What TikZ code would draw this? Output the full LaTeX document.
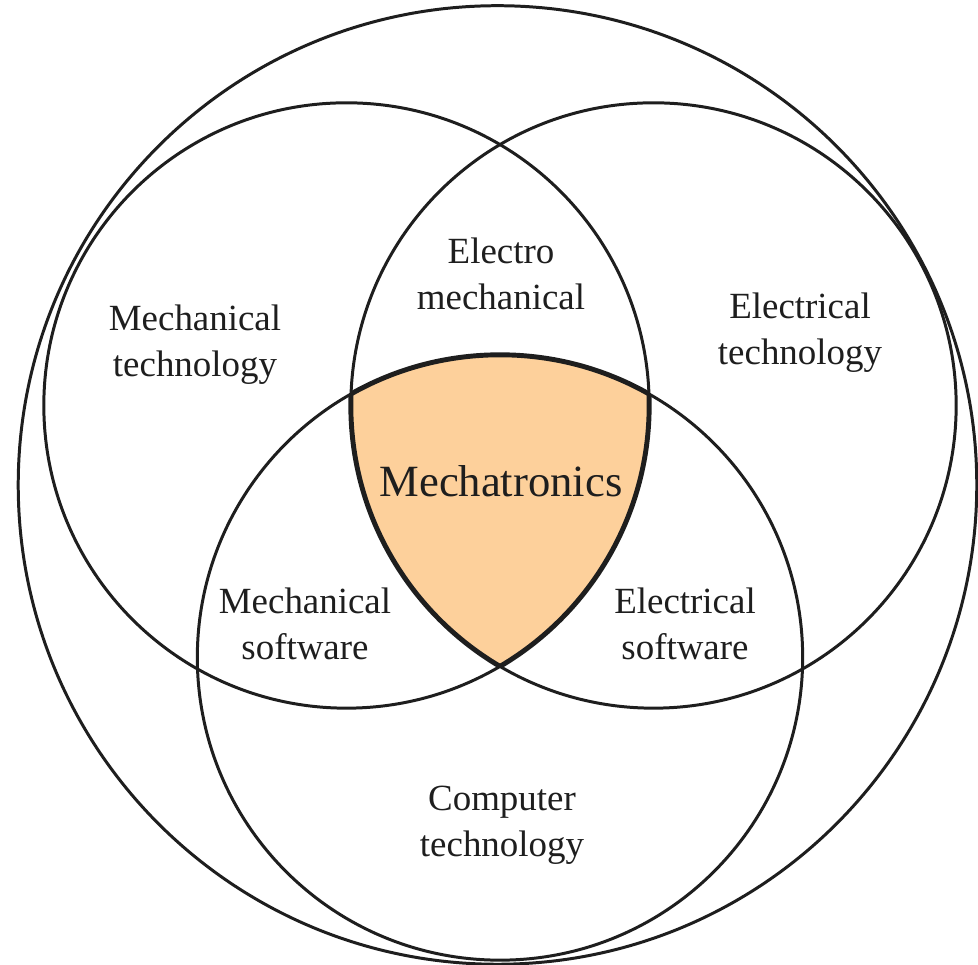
\documentclass[tikz,border=0pt]{standalone}
\usepackage{fontspec}
\setmainfont{Liberation Serif}
\definecolor{mechfill}{RGB}{253,208,155}
\definecolor{inkline}{RGB}{30,30,30}
\tikzset{
  ring/.style={draw=inkline, line width=0.85pt},
  lbl/.style={align=center, anchor=base, inner sep=0pt, text=inkline,
              font=\fontsize{10.5}{13.1}\selectfont},
  biglbl/.style={anchor=base, inner sep=0pt, text=inkline,
              font=\fontsize{12.7}{15}\selectfont}
}
\begin{document}
\begin{tikzpicture}[x=0.01cm,y=-0.01cm]
\useasboundingbox (0,0) rectangle (978,965);
\coordinate (cO) at (497.5,485);
\coordinate (cL) at (346.5,405.5);
\coordinate (cR) at (653.5,405.5);
\coordinate (cB) at (500,657.5);
% shaded intersection
\begin{scope}
  \clip (cL) circle[radius=3.025cm];
  \clip (cR) circle[radius=3.025cm];
  \fill[mechfill] (cB) circle[radius=3.025cm];
\end{scope}
% circles
\draw[ring] (cO) circle[radius=4.79cm];
\draw[ring] (cL) circle[radius=3.025cm];
\draw[ring] (cR) circle[radius=3.025cm];
\draw[ring] (cB) circle[radius=3.025cm];
% slightly heavier outline of the central region
\begin{scope}
  \clip (cL) circle[radius=3.025cm];
  \clip (cR) circle[radius=3.025cm];
  \draw[draw=inkline, line width=1.4pt] (cB) circle[radius=3.025cm];
\end{scope}
\begin{scope}
  \clip (cB) circle[radius=3.025cm];
  \clip (cR) circle[radius=3.025cm];
  \draw[draw=inkline, line width=1.4pt] (cL) circle[radius=3.025cm];
\end{scope}
\begin{scope}
  \clip (cB) circle[radius=3.025cm];
  \clip (cL) circle[radius=3.025cm];
  \draw[draw=inkline, line width=1.4pt] (cR) circle[radius=3.025cm];
\end{scope}
% labels (anchor = baseline of the last line)
\node[lbl] (mt) at (195,377) {Mechanical\\technology};
\node[lbl] (em) at (501,310) {Electro\\mechanical};
\node[lbl] (et) at (800,365) {Electrical\\technology};
\node[biglbl] (mx) at (501,497) {Mechatronics};
\node[lbl] (ms) at (305,660) {Mechanical\\software};
\node[lbl] (es) at (685,660) {Electrical\\software};
\node[lbl] (ct) at (502,857) {Computer\\technology};
\end{tikzpicture}
\end{document}
